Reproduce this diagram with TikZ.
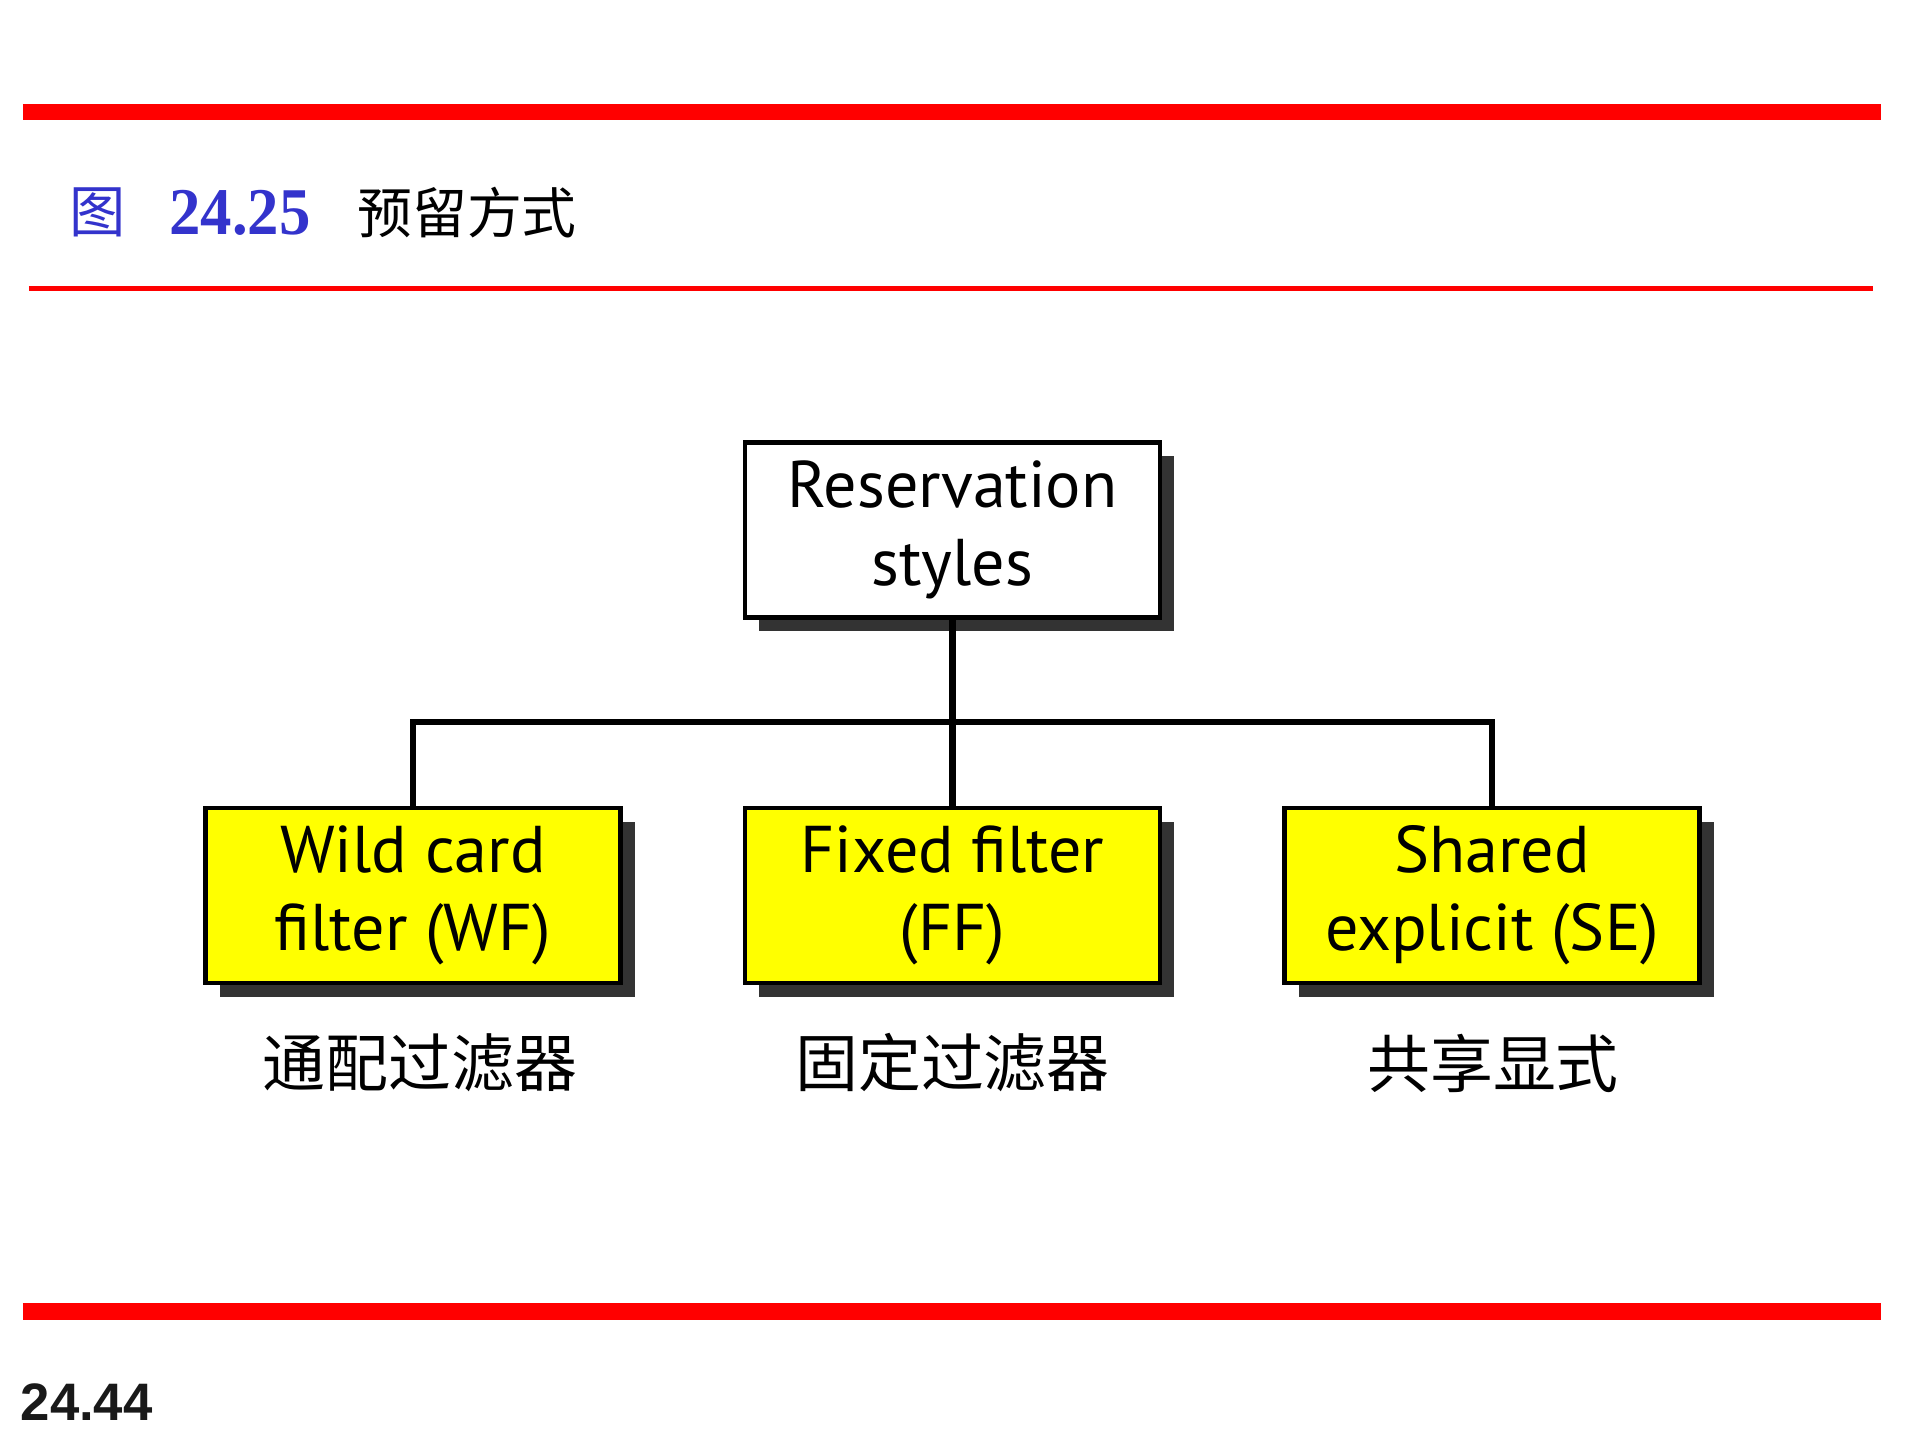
\documentclass[tikz,border=0pt]{standalone}
\usepackage{fontspec}
\setsansfont{PT Sans}
\newfontfamily\cjkfont{Noto Sans CJK SC}
\newfontfamily\numtitle{Liberation Serif}[FakeStretch=0.94]
\newfontfamily\pagefont{Liberation Sans}
\usepackage{tikz}
\usetikzlibrary{
    positioning,
    shadows
}
\usepackage{xcolor}
\definecolor{barred}{RGB}{255,0,0}
\definecolor{titleblue}{RGB}{51,51,204}
\definecolor{boxyellow}{RGB}{255,255,0}
\definecolor{shadowgray}{RGB}{51,51,51}

\begin{document}
\begin{tikzpicture}[
        stylebox/.style={
            draw,
            fill=white,
            line width=1.4pt,
            minimum width=4.15cm,
            minimum height=1.75cm,
            align=center,
            font=\sffamily\fontsize{18.8}{22.2}\selectfont,
            drop shadow={shadow xshift=0.14cm, shadow yshift=-0.14cm,
                fill=shadowgray, opacity=1}
        },
        leafbox/.style={
            stylebox,
            fill=boxyellow
        },
        link/.style={
            line width=1.9pt
        },
        cnlabel/.style={
            font=\cjkfont\fontsize{17.9}{20}\selectfont
        }
    ]
        \useasboundingbox (0,0) rectangle (19.2,14.4);
        % frame of the slide
        \draw[barred, line width=0.16cm] (0.23,13.28) -- (18.81,13.28);
        \draw[barred, line width=0.05cm] (0.29,11.515) -- (18.73,11.515);
        \draw[barred, line width=0.17cm] (0.23,1.285) -- (18.81,1.285);
        \node[text=titleblue, font=\cjkfont\fontsize{16}{16}\selectfont]
            (fig) at (0.98,12.275) {图};
        \node[text=titleblue, font=\numtitle\bfseries\fontsize{19}{19}\selectfont]
            (fignum) at (2.40,12.27) {24.25};
        \node[font=\cjkfont\fontsize{15.6}{16}\selectfont]
            (figtitle) at (4.67,12.275) {预留方式};
        \node[anchor=base west, inner sep=0pt, text=black!90,
            font=\pagefont\bfseries\fontsize{15}{15}\selectfont]
            (page) at (0.20,0.20) {24.44};
        % tree
        \node[stylebox] (root) at (9.525,9.10) {Reservation\\styles};
        \node[leafbox] (wf) at (4.13,5.445) {Wild card\\filter (WF)};
        \node[leafbox] (ff) at (9.525,5.445) {Fixed filter\\(FF)};
        \node[leafbox] (se) at (14.92,5.445) {Shared\\explicit (SE)};
        \coordinate (bus) at (9.525,7.18);
        \draw[link] (root.south) -- (bus);
        \draw[link] (wf.north) |- (bus) -| (se.north);
        \draw[link] (bus) -- (ff.north);
        \node[cnlabel] (wfcn) at (4.20,3.77) {通配过滤器};
        \node[cnlabel] (ffcn) at (9.525,3.77) {固定过滤器};
        \node[cnlabel] (secn) at (14.93,3.77) {共享显式};
    \end{tikzpicture}
\end{document}
